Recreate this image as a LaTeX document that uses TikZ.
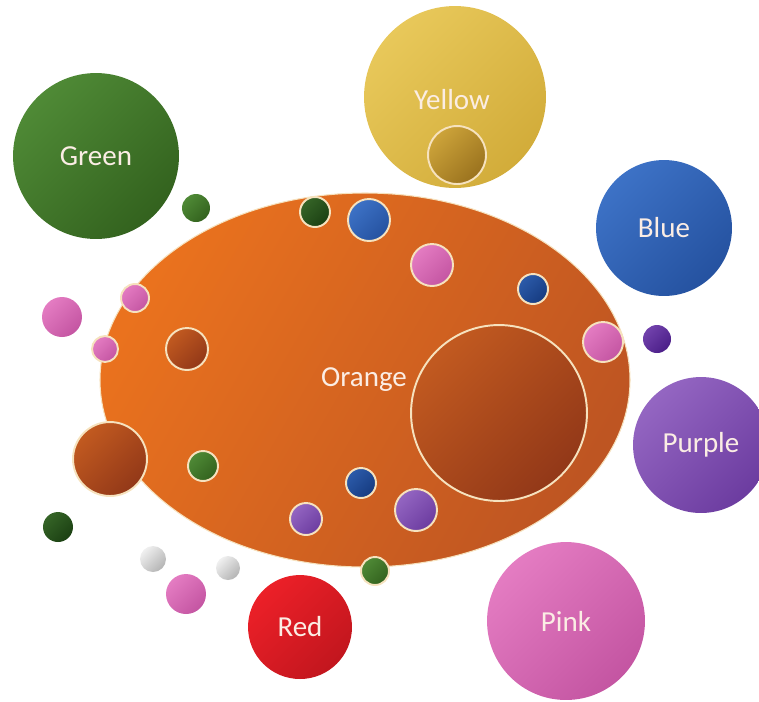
\documentclass[tikz,border=0pt]{standalone}
\usepackage{fontspec}
\setmainfont{Carlito}
\usetikzlibrary{shapes.geometric}

% colour pairs: A = light (top left), B = dark (bottom right)
\definecolor{greenA}{HTML}{4F8A36}
\definecolor{greenB}{HTML}{33621E}
\definecolor{dkgreenA}{HTML}{356427}
\definecolor{dkgreenB}{HTML}{1B4012}
\definecolor{yellowA}{HTML}{E8C85A}
\definecolor{yellowB}{HTML}{D2AC3A}
\definecolor{goldA}{HTML}{CDA43A}
\definecolor{goldB}{HTML}{9A721E}
\definecolor{blueA}{HTML}{3D72C6}
\definecolor{blueB}{HTML}{2552A0}
\definecolor{dkblueA}{HTML}{2C5BAA}
\definecolor{dkblueB}{HTML}{163B80}
\definecolor{purpleA}{HTML}{9466C2}
\definecolor{purpleB}{HTML}{6C3CA0}
\definecolor{dkpurpleA}{HTML}{7242AC}
\definecolor{dkpurpleB}{HTML}{4A1E88}
\definecolor{pinkA}{HTML}{E47CC2}
\definecolor{pinkB}{HTML}{C455A2}
\definecolor{redA}{HTML}{EC2028}
\definecolor{redB}{HTML}{C2161E}
\definecolor{orangeA}{HTML}{EA721E}
\definecolor{orangeB}{HTML}{BE5522}
\definecolor{brownA}{HTML}{C25A20}
\definecolor{brownB}{HTML}{923818}
\definecolor{greyA}{HTML}{F0F0F0}
\definecolor{greyB}{HTML}{B4B4B4}
\definecolor{rimcream}{HTML}{F6E2BE}
\definecolor{labelcream}{HTML}{FBEDE4}

\begin{document}
\begin{tikzpicture}[x=0.02cm, y=-0.02cm,
    bub/.style={circle, inner sep=0pt, minimum size=#1*0.04cm},
    tint/.style={top color=#1A, bottom color=#1B, shading angle=45},
    rim/.style={draw=rimcream, line width=1.1pt},
    lbl/.style={text=labelcream, font=\fontsize{16.5}{20}\selectfont}]
    \useasboundingbox (0,0) rectangle (759,701);

    % the big labelled circles
    \node[bub=83, tint=green, lbl] (greenbub) at (96,156) {Green};
    \node[bub=91, tint=yellow, lbl] (yellowbub) at (455,97) {};
    \node[lbl] (yellowtxt) at (452,100) {Yellow};
    \node[bub=29, tint=gold, rim] (yellowcore) at (457,155) {};
    \node[bub=68, tint=blue, lbl] (bluebub) at (664,228) {Blue};
    \node[bub=68, tint=purple, lbl] (purplebub) at (701,445) {Purple};
    \node[bub=79, tint=pink, lbl] (pinkbub) at (566,621) {Pink};
    \node[bub=52, tint=red, lbl] (redbub) at (300,627) {Red};

    % the orange ellipse and its core
    \node[ellipse, inner sep=0pt, minimum width=530*0.02cm, minimum height=374*0.02cm,
        top color=orangeA, bottom color=orangeB, shading angle=60,
        draw=rimcream, line width=0.6pt, lbl] (orangebub) at (365,380) {};
    \node[bub=88, tint=brown, rim] (orangecore) at (499,413) {};
    \node[lbl] (orangetxt) at (364,380) {Orange};

    % small dots on the ellipse
    \foreach \px/\py/\r/\col [count=\i] in {315/212/15/dkgreen, 369/220/21/blue, 432/265/21/pink,
        533/289/15/dkblue, 603/342/20/pink, 135/298/14/pink, 105/349/13/pink, 187/349/21/brown,
        110/459/37/brown, 203/466/15/green, 361/483/15/dkblue, 306/519/16/purple,
        416/510/21/purple, 375/571/14/green}
        \node[bub=\r, tint=\col, rim] (dot\i) at (\px,\py) {};

    % loose dots outside
    \foreach \px/\py/\r/\col [count=\i] in {196/208/14/green, 62/317/20/pink, 58/527/15/dkgreen,
        153/559/13/grey, 228/568/12/grey, 186/594/20/pink, 657/339/14/dkpurple}
        \node[bub=\r, tint=\col] (loose\i) at (\px,\py) {};
\end{tikzpicture}
\end{document}
